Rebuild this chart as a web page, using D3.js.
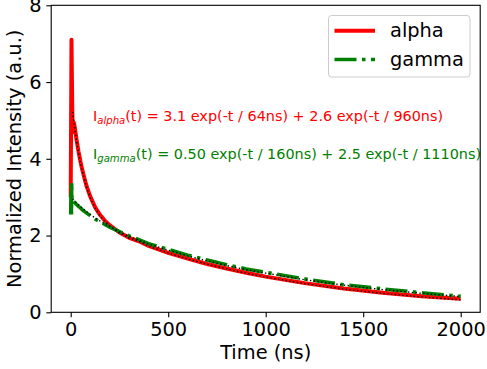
<!DOCTYPE html>
<html><head><meta charset="utf-8">
<script src="https://cdn.jsdelivr.net/npm/d3@7"></script>
<style>
body{margin:0;background:#fff;}
svg{display:block;font-family:"DejaVu Sans",sans-serif;}
</style></head>
<body><svg id="c" width="487" height="369"></svg>
<script>
// ---- data ----
const alphaT = [0,2,4,6,8,10,13,16,20,30,40,50,60,80,100,125,150,175,200,250,300,350,400,500,600,700,800,900,1000,1200,1400,1600,1800,2000];
const alphaV = [3.0,5.0,7.1,6.2,5.3,4.8,4.7,4.95,4.85,4.5,4.19,3.93,3.7,3.31,3.02,2.74,2.54,2.39,2.27,2.08,1.94,1.85,1.73,1.55,1.40,1.26,1.14,1.03,0.93,0.76,0.62,0.51,0.42,0.35];
const gammaT = [0,2,4,5,7,10,15,20,30,40,50,60,80,100,125,150,175,200,250,300,350,400,500,600,700,800,900,1000,1200,1400,1600,1800,2000];
const gammaV = [2.55,3.3,2.55,3.36,2.9,2.93,2.89,2.86,2.81,2.76,2.72,2.67,2.59,2.52,2.43,2.36,2.29,2.22,2.10,1.99,1.89,1.79,1.64,1.49,1.36,1.24,1.13,1.04,0.87,0.72,0.61,0.51,0.42];
const fitT = [10,15,20,30,40,50,60,80,100,125,150,175,200,250,300,350,400,500,600,700,800,900,1000,1200,1400,1600,1800,2000];
const alphaFit = [5.22,5.01,4.81,4.46,4.15,3.89,3.66,3.28,2.99,2.72,2.52,2.37,2.25,2.07,1.93,1.85,1.72,1.545,1.392,1.254,1.130,1.018,0.918,0.745,0.605,0.491,0.399,0.324];
const gammaFit = [2.95,2.92,2.90,2.85,2.80,2.76,2.71,2.63,2.55,2.46,2.38,2.30,2.23,2.10,1.98,1.88,1.78,1.62,1.47,1.34,1.22,1.11,1.02,0.848,0.708,0.592,0.494,0.412];
const xTicks = [0,500,1000,1500,2000];
const yTicks = [0,2,4,6,8];
const seriesNames = ["alpha","gamma"];
const alphaLabel = {sub:"alpha", rest:"(t) = 3.1 exp(-t / 64ns) + 2.6 exp(-t / 960ns)"};
const gammaLabel = {sub:"gamma", rest:"(t) = 0.50 exp(-t / 160ns) + 2.5 exp(-t / 1110ns)"};

// ---- layout ----
const L=51.2, R=480.2, T=5.3, B=312.3;
const svg = d3.select("#c");
const x = d3.scaleLinear().domain([-100,2100]).range([L,R]);
const y = d3.scaleLinear().domain([0,8]).range([B,T]);
const fs = 19.4;

svg.append("clipPath").attr("id","clp").append("rect")
  .attr("x",L).attr("y",T).attr("width",R-L).attr("height",B-T);

const line = d3.line().x(d=>x(d[0])).y(d=>y(d[1]));
const zip = (a,b)=>a.map((t,i)=>[t,b[i]]);

const g = svg.append("g").attr("clip-path","url(#clp)");
g.append("path").datum(zip(alphaT,alphaV)).attr("d",line)
  .attr("fill","none").attr("stroke","#ff0000").attr("stroke-width",4).attr("stroke-linejoin","round");
g.append("path").datum(zip(gammaT,gammaV)).attr("d",line)
  .attr("fill","none").attr("stroke","#008000").attr("stroke-width",3.6)
  .attr("stroke-dasharray","22,5.5,3.5,5.5");
g.append("path").datum(zip(fitT,alphaFit)).attr("d",line)
  .attr("fill","none").attr("stroke","#000").attr("stroke-width",1.4).attr("stroke-dasharray","1.4,2.4");
g.append("path").datum(zip(fitT,gammaFit)).attr("d",line)
  .attr("fill","none").attr("stroke","#000").attr("stroke-width",1.4).attr("stroke-dasharray","1.4,2.4");

// annotations
function ann(lbl, color, ty){
  const t = svg.append("text").attr("x",93).attr("y",ty).attr("fill",color)
    .attr("font-size",14.4);
  t.append("tspan").text("I");
  t.append("tspan").attr("font-style","italic").attr("font-size",10.1).attr("dy",3).text(lbl.sub);
  t.append("tspan").attr("dy",-3).text(lbl.rest);
}
ann(alphaLabel,"#ff0000",120.7);
ann(gammaLabel,"#008000",158.7);

// axes
const xa = svg.append("g").attr("transform",`translate(0,${B})`)
  .call(d3.axisBottom(x).tickValues(xTicks).tickFormat(d3.format("d")).tickSize(4.86).tickPadding(5));
const ya = svg.append("g").attr("transform",`translate(${L},0)`)
  .call(d3.axisLeft(y).tickValues(yTicks).tickFormat(d3.format("d")).tickSize(4.86).tickPadding(4.86));
[xa,ya].forEach(a=>{
  a.select(".domain").remove();
  a.selectAll("line").attr("stroke","#000").attr("stroke-width",1.1);
  a.selectAll("text").attr("font-size",fs).attr("font-family","DejaVu Sans").attr("fill","#000");
});
svg.append("rect").attr("x",L).attr("y",T).attr("width",R-L).attr("height",B-T)
  .attr("fill","none").attr("stroke","#000").attr("stroke-width",1.1);

svg.append("text").attr("x",(L+R)/2).attr("y",358.5).attr("text-anchor","middle")
  .attr("font-size",fs).text("Time (ns)");
svg.append("text").attr("transform",`translate(21,${(T+B)/2}) rotate(-90)`).attr("text-anchor","middle")
  .attr("font-size",fs).text("Normalized Intensity (a.u.)");

// legend
const lg = svg.append("g");
lg.append("rect").attr("x",328.5).attr("y",15.5).attr("width",141.5).attr("height",61.5).attr("rx",3)
  .attr("fill","#fff").attr("fill-opacity",0.8).attr("stroke","#cccccc").attr("stroke-width",1);
const lgY=[30.7,59.5];
lg.append("line").attr("x1",334.5).attr("x2",375).attr("y1",lgY[0]).attr("y2",lgY[0])
  .attr("stroke","#ff0000").attr("stroke-width",4);
lg.append("line").attr("x1",334.5).attr("x2",375).attr("y1",lgY[1]).attr("y2",lgY[1])
  .attr("stroke","#008000").attr("stroke-width",3.6).attr("stroke-dasharray","22,5.5,3.5,5.5");
seriesNames.forEach((n,i)=>{
  lg.append("text").attr("x",390).attr("y",lgY[i]+6.5).attr("font-size",fs).text(n);
});
</script></body></html>
